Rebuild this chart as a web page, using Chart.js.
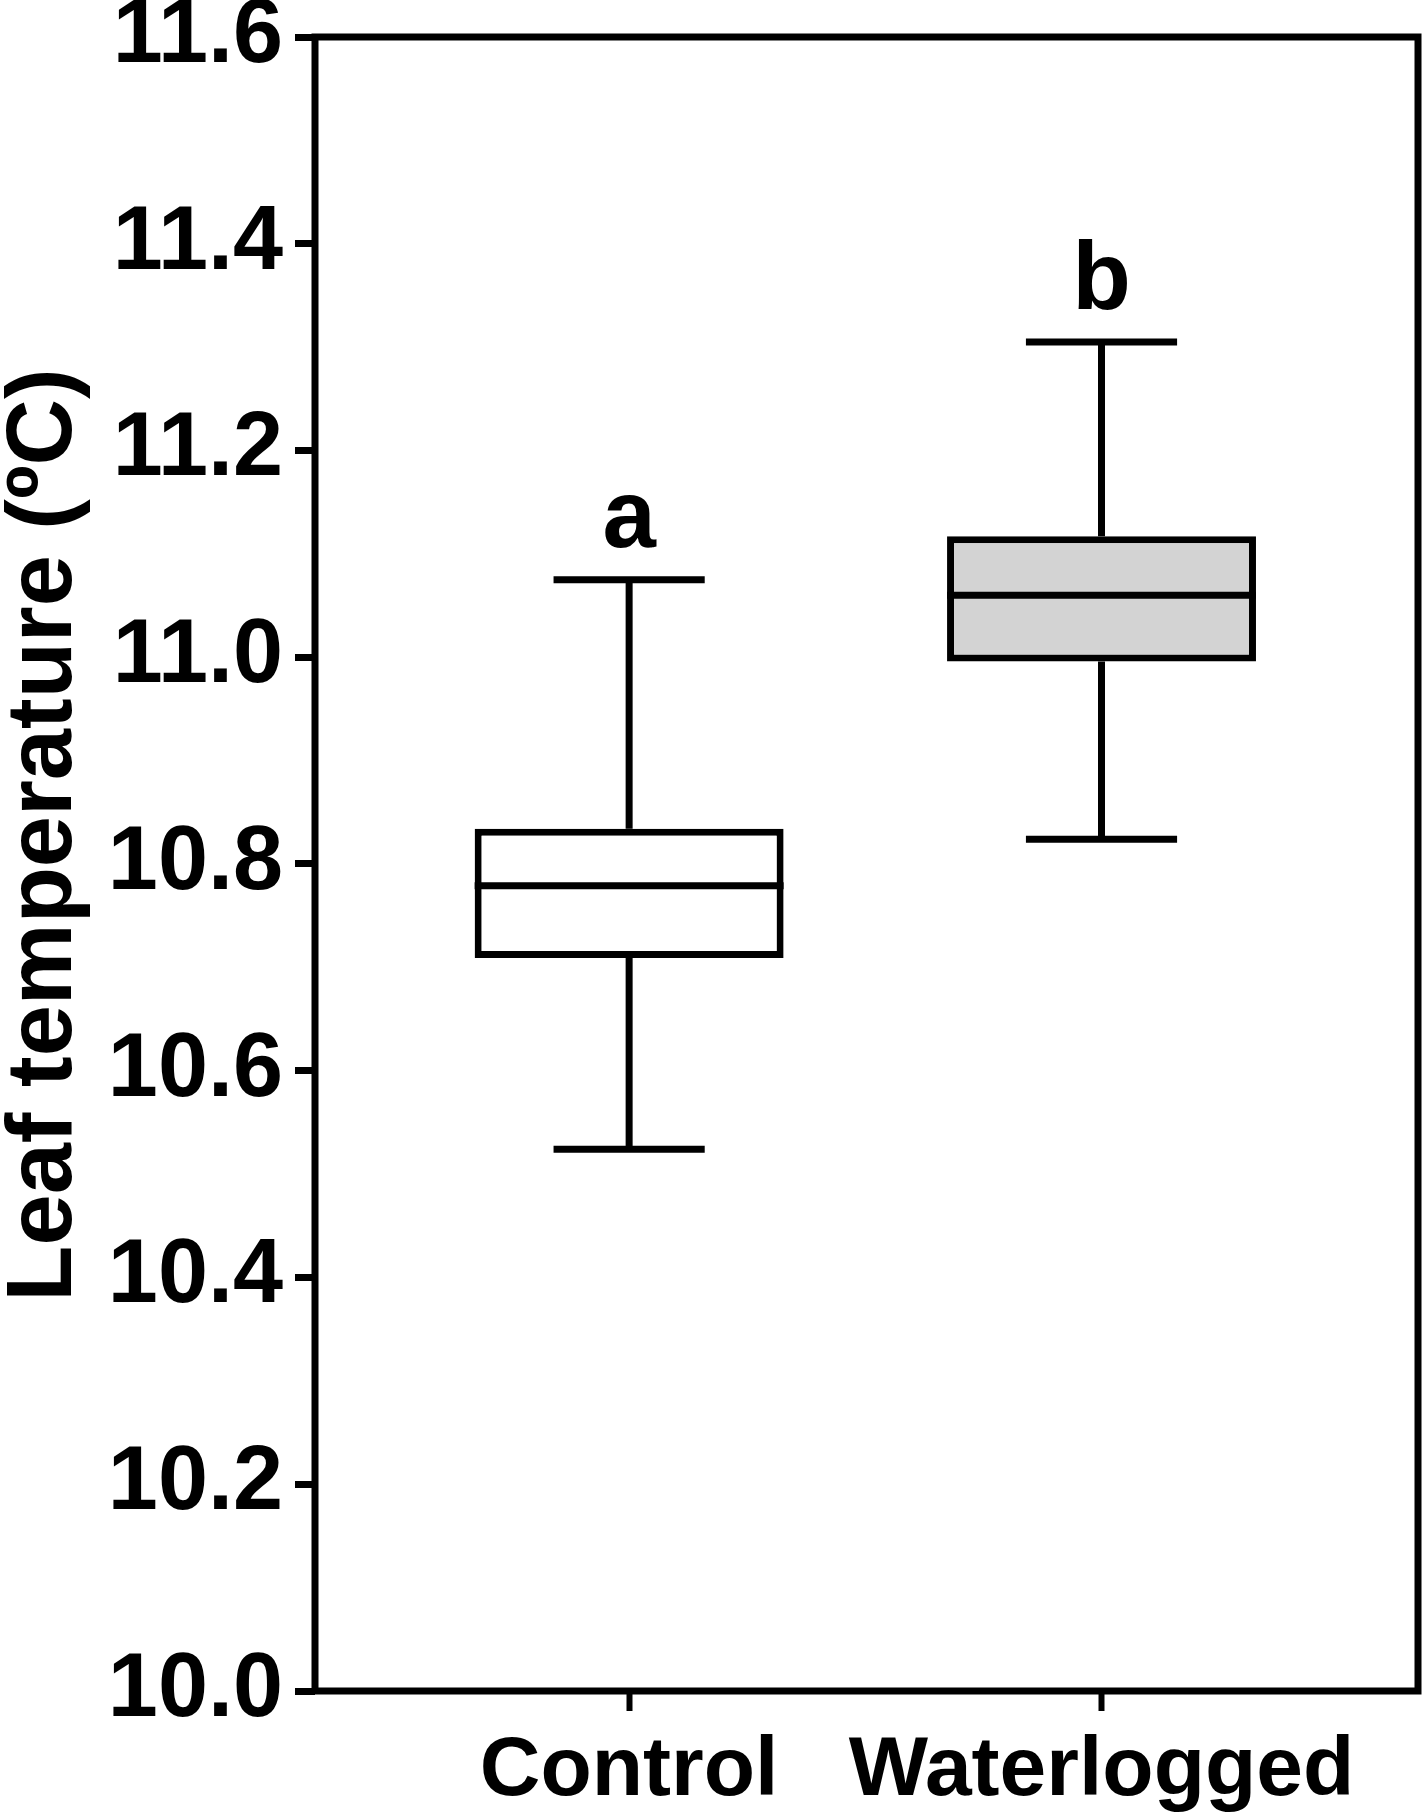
<!DOCTYPE html>
<html>
<head>
<meta charset="utf-8">
<script src="https://cdn.jsdelivr.net/npm/chart.js@4/dist/chart.umd.min.js"></script>
<style>
  html, body { margin: 0; padding: 0; background: #fff; }
  #wrap { width: 1427px; height: 1816px; }
</style>
</head>
<body>
<div id="wrap"><canvas id="leafChart" width="1427" height="1816"></canvas></div>
<script>
// data
const categories = ["Control", "Waterlogged"];
const whiskerLow = [10.524, 10.824];
const q1 = [10.709, 10.996];
const median = [10.779, 11.060];
const q3 = [10.834, 11.117];
const whiskerHigh = [11.075, 11.305];
const groupLetters = ["a", "b"];
const boxColors = ["#ffffff", "#d3d3d3"];
const yTicks = [10.0, 10.2, 10.4, 10.6, 10.8, 11.0, 11.2, 11.4, 11.6];

const FONT = "'Liberation Sans', Arial, sans-serif";

// whiskers, medians, caps, letters and frame
const boxPlotExtras = {
  id: "boxPlotExtras",
  afterDatasetsDraw(chart) {
    const { ctx, chartArea, scales: { x, y } } = chart;
    const bars = chart.getDatasetMeta(0).data;
    ctx.save();
    ctx.strokeStyle = "#000";
    ctx.lineWidth = 7;
    ctx.lineCap = "butt";

    categories.forEach((cat, i) => {
      const cx = x.getPixelForValue(i);
      const half = bars[i].width / 2;
      const capL = x.getPixelForValue(i - 0.16);
      const capR = x.getPixelForValue(i + 0.16);

      ctx.beginPath();
      // upper whisker
      ctx.moveTo(cx, y.getPixelForValue(q3[i]));
      ctx.lineTo(cx, y.getPixelForValue(whiskerHigh[i]));
      ctx.moveTo(capL, y.getPixelForValue(whiskerHigh[i]));
      ctx.lineTo(capR, y.getPixelForValue(whiskerHigh[i]));
      // lower whisker
      ctx.moveTo(cx, y.getPixelForValue(q1[i]));
      ctx.lineTo(cx, y.getPixelForValue(whiskerLow[i]));
      ctx.moveTo(capL, y.getPixelForValue(whiskerLow[i]));
      ctx.lineTo(capR, y.getPixelForValue(whiskerLow[i]));
      // median
      ctx.moveTo(cx - half, y.getPixelForValue(median[i]));
      ctx.lineTo(cx + half, y.getPixelForValue(median[i]));
      ctx.stroke();

      // significance letter
      ctx.fillStyle = "#000";
      ctx.font = "bold 96px " + FONT;
      ctx.textAlign = "center";
      ctx.textBaseline = "alphabetic";
      ctx.fillText(groupLetters[i], cx, y.getPixelForValue(whiskerHigh[i]) - 33);
    });

    // frame round the plot
    ctx.lineWidth = 7;
    ctx.strokeRect(chartArea.left, chartArea.top,
      chartArea.right - chartArea.left, chartArea.bottom - chartArea.top);

    // y axis title
    ctx.translate(71, 835);
    ctx.rotate(-Math.PI / 2);
    ctx.font = "bold 92px " + FONT;
    ctx.textAlign = "center";
    ctx.textBaseline = "alphabetic";
    ctx.fillText("Leaf temperature (\u00baC)", 0, 0);
    ctx.restore();
  }
};

new Chart(document.getElementById("leafChart"), {
  type: "bar",
  data: {
    datasets: [{
      data: categories.map((c, i) => ({ x: i, y: [q1[i], q3[i]] })),
      backgroundColor: boxColors,
      borderColor: "#000",
      borderWidth: 7,
      borderSkipped: false,
      categoryPercentage: 1,
      barPercentage: 0.654
    }]
  },
  options: {
    responsive: false,
    animation: false,
    layout: { padding: { top: 37, right: 9, left: 0, bottom: 0 } },
    plugins: {
      legend: { display: false },
      tooltip: { enabled: false }
    },
    scales: {
      x: {
        type: "linear",
        min: -0.665,
        max: 1.67,
        offset: false,
        afterBuildTicks: s => { s.ticks = categories.map((c, i) => ({ value: i })); },
        afterFit: s => { s.height = 125; s.paddingLeft = 0; s.paddingRight = 0; },
        border: { display: false },
        grid: { display: true, offset: false, drawOnChartArea: false, drawTicks: true, tickLength: 20, tickWidth: 6, color: "#000" },
        ticks: {
          color: "#000",
          padding: 10,
          maxRotation: 0,
          font: { family: FONT, size: 84, weight: "bold" },
          callback: v => categories[v]
        }
      },
      y: {
        min: 10,
        max: 11.6,
        afterBuildTicks: s => { s.ticks = yTicks.map(v => ({ value: v })); },
        afterFit: s => { s.width = 315; s.paddingTop = 0; s.paddingBottom = 0; },
        border: { display: false },
        grid: { display: true, drawOnChartArea: false, drawTicks: true, tickLength: 20, tickWidth: 7, color: "#000" },
        ticks: {
          color: "#000",
          padding: 12,
          font: { family: FONT, size: 90, weight: "bold" },
          callback: v => v.toFixed(1)
        }
      }
    }
  },
  plugins: [boxPlotExtras]
});
</script>
</body>
</html>
